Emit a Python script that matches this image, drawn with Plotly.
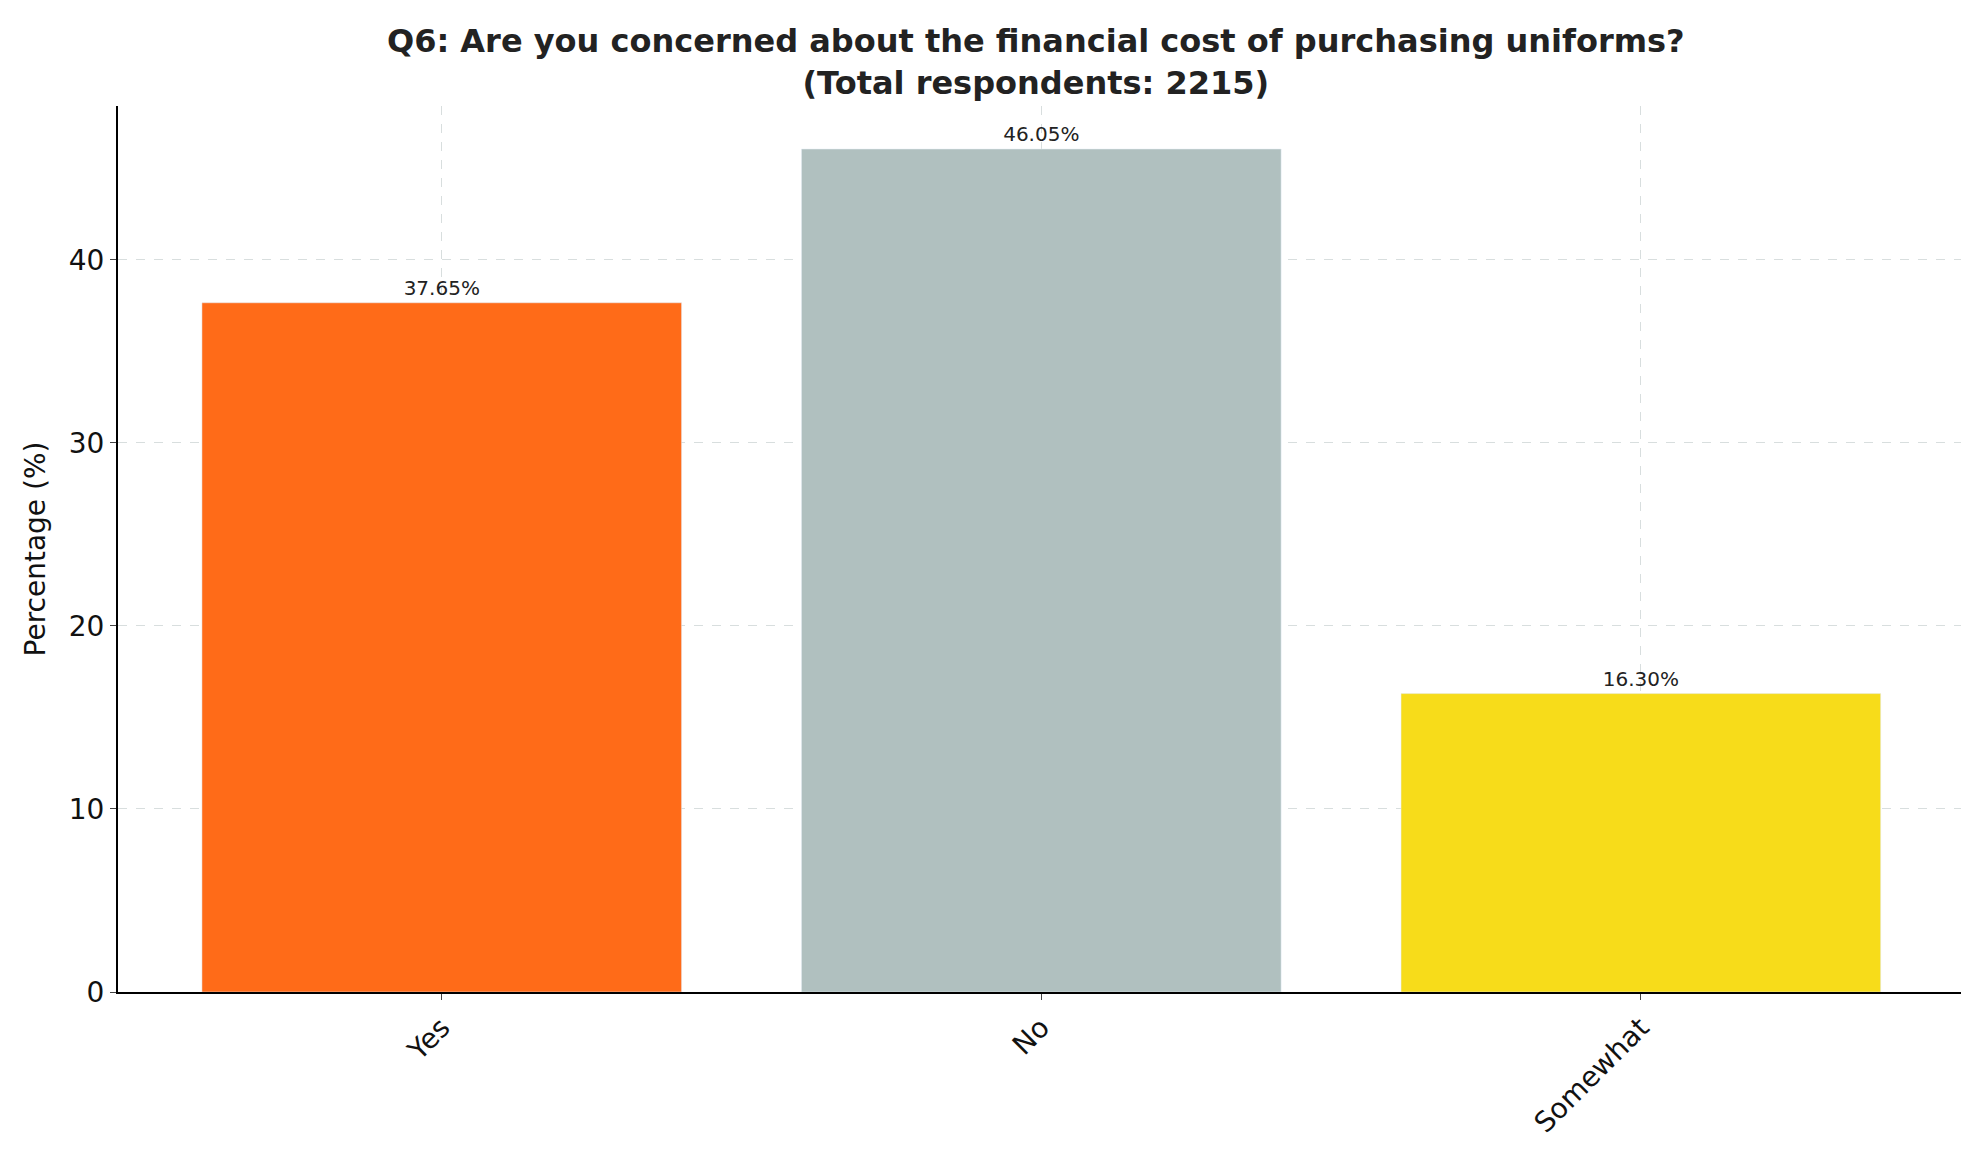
import plotly.graph_objects as go

categories = ["Yes", "No", "Somewhat"]
values = [37.65, 46.05, 16.30]
colors = ["#FF6B18", "#B0C0BF", "#F7DC1A"]
labels = [f"{v:.2f}%" for v in values]

fig = go.Figure(go.Bar(
    x=categories, y=values, marker_color=colors, width=0.8,
    text=labels, textposition="outside", cliponaxis=False,
    textfont=dict(size=20, color="#222"),
))
fig.update_layout(
    width=1969, height=1170, plot_bgcolor="white", paper_bgcolor="white",
    font=dict(family="DejaVu Sans", color="#111"),
    margin=dict(l=110, r=10, t=98, b=186),
    title=dict(text="<b>Q6: Are you concerned about the financial cost of purchasing uniforms?<br>(Total respondents: 2215)</b>",
               x=0.522, xanchor="center", y=0.962, yanchor="top", font=dict(size=32, color="#222")),
    bargap=0.2, showlegend=False,
)
fig.update_xaxes(range=[-0.54, 2.544], showline=True, linecolor="black", linewidth=2,
                 ticks="outside", ticklen=6, tickangle=-45, tickfont=dict(size=28),
                 showgrid=True, gridcolor="#d8dede", griddash="dash", gridwidth=1)
fig.update_yaxes(range=[0, 48.4], showline=True, linecolor="black", linewidth=2,
                 ticks="outside", ticklen=6, tickfont=dict(size=28), dtick=10,
                 title=dict(text="Percentage (%)", font=dict(size=28)),
                 showgrid=True, gridcolor="#d8dede", griddash="dash", gridwidth=1, zeroline=False)
fig.write_html("out.html")
